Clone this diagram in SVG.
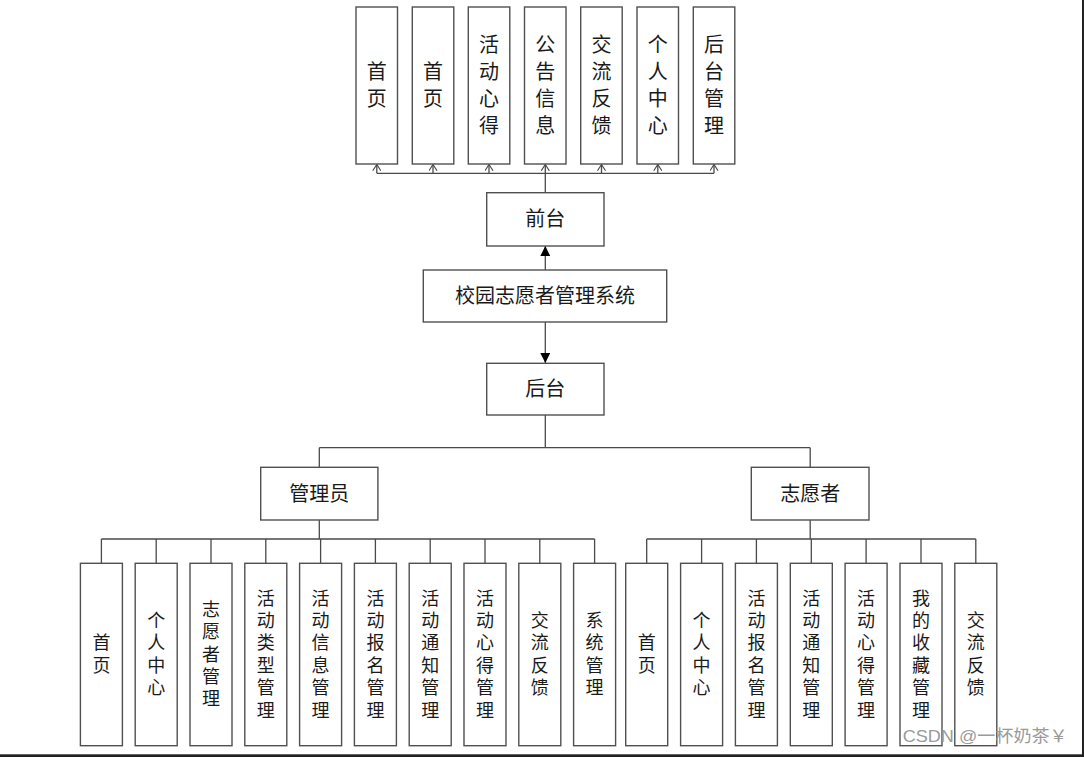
<svg xmlns="http://www.w3.org/2000/svg" width="1084" height="757" viewBox="0 0 1084 757">
<style>
.box{fill:#fff;stroke:#505050;stroke-width:1.4}
.ln{fill:none;stroke:#4a4a4a;stroke-width:1.3}
.t20{font-family:"Liberation Serif","Noto Sans CJK SC",serif;font-size:20px;fill:#1a1a1a;text-anchor:middle;dominant-baseline:central}
.t18{font-family:"Liberation Serif","Noto Sans CJK SC",serif;font-size:18px;fill:#1a1a1a;text-anchor:middle;dominant-baseline:central}
.wm{font-family:"Liberation Sans","Noto Sans CJK SC",sans-serif;font-size:17px;fill:#9a9a9a}
</style>
<defs>
<marker id="fill" viewBox="0 0 10 10" refX="10" refY="5" markerWidth="10" markerHeight="10" markerUnits="userSpaceOnUse" orient="auto">
<path d="M0,0 L10,5 L0,10 Z" fill="#000"/>
</marker>
<marker id="open" viewBox="0 0 10 10" refX="9" refY="5" markerWidth="9" markerHeight="9" markerUnits="userSpaceOnUse" orient="auto">
<path d="M2,0.5 L9,5 L2,9.5" fill="none" stroke="#4a4a4a" stroke-width="1.3"/>
</marker>
</defs>
<rect x="0" y="0" width="1084" height="757" fill="#fff"/>

<g id="connectors">
<path class="ln" d="M376.8,173.3 H714"/>
<path class="ln" d="M376.8,173.3 V164.5" marker-end="url(#open)"/>
<path class="ln" d="M433,173.3 V164.5" marker-end="url(#open)"/>
<path class="ln" d="M489,173.3 V164.5" marker-end="url(#open)"/>
<path class="ln" d="M545.3,192.7 V164.5" marker-end="url(#open)"/>
<path class="ln" d="M601.5,173.3 V164.5" marker-end="url(#open)"/>
<path class="ln" d="M657.8,173.3 V164.5" marker-end="url(#open)"/>
<path class="ln" d="M714,173.3 V164.5" marker-end="url(#open)"/>
<path class="ln" d="M545.3,270 V246" marker-end="url(#fill)"/>
<path class="ln" d="M545.3,322 V363" marker-end="url(#fill)"/>
<path class="ln" d="M545.3,415 V447.7 M319.3,447.7 H810.2 M319.3,447.7 V467.3 M810.2,447.7 V467.3"/>
<path class="ln" d="M319.3,520 V539 M101.4,539 H594.6"/>
<path class="ln" d="M101.4,539 V563.3 M156.2,539 V563.3 M211,539 V563.3 M265.8,539 V563.3 M320.6,539 V563.3 M375.4,539 V563.3 M430.2,539 V563.3 M485,539 V563.3 M539.8,539 V563.3 M594.6,539 V563.3"/>
<path class="ln" d="M810.2,520 V539 M646.7,539 H975.8"/>
<path class="ln" d="M646.7,539 V563.3 M701.6,539 V563.3 M756.4,539 V563.3 M811.3,539 V563.3 M866.1,539 V563.3 M921,539 V563.3 M975.8,539 V563.3"/>
</g>

<g id="f1"><rect class="box" x="356" y="7" width="41.5" height="157"/><text class="t20"><tspan x="376.8" y="72">首</tspan><tspan x="376.8" y="99">页</tspan></text></g>
<g id="f2"><rect class="box" x="412.3" y="7" width="41.5" height="157"/><text class="t20"><tspan x="433" y="72">首</tspan><tspan x="433" y="99">页</tspan></text></g>
<g id="f3"><rect class="box" x="468.3" y="7" width="41.5" height="157"/><text class="t20"><tspan x="489" y="45">活</tspan><tspan x="489" y="72">动</tspan><tspan x="489" y="99">心</tspan><tspan x="489" y="126">得</tspan></text></g>
<g id="f4"><rect class="box" x="524.5" y="7" width="41.5" height="157"/><text class="t20"><tspan x="545.3" y="45">公</tspan><tspan x="545.3" y="72">告</tspan><tspan x="545.3" y="99">信</tspan><tspan x="545.3" y="126">息</tspan></text></g>
<g id="f5"><rect class="box" x="580.7" y="7" width="41.5" height="157"/><text class="t20"><tspan x="601.5" y="45">交</tspan><tspan x="601.5" y="72">流</tspan><tspan x="601.5" y="99">反</tspan><tspan x="601.5" y="126">馈</tspan></text></g>
<g id="f6"><rect class="box" x="637" y="7" width="41.5" height="157"/><text class="t20"><tspan x="657.8" y="45">个</tspan><tspan x="657.8" y="72">人</tspan><tspan x="657.8" y="99">中</tspan><tspan x="657.8" y="126">心</tspan></text></g>
<g id="f7"><rect class="box" x="693.3" y="7" width="41.5" height="157"/><text class="t20"><tspan x="714" y="45">后</tspan><tspan x="714" y="72">台</tspan><tspan x="714" y="99">管</tspan><tspan x="714" y="126">理</tspan></text></g>

<g id="frontend"><rect class="box" x="486.7" y="192.7" width="117.3" height="53.3"/><text class="t20" x="545.3" y="219.3">前台</text></g>
<g id="system"><rect class="box" x="423.3" y="270" width="243.4" height="52"/><text class="t20" x="545" y="296">校园志愿者管理系统</text></g>
<g id="backend"><rect class="box" x="486.7" y="363.3" width="117.3" height="51.7"/><text class="t20" x="545.3" y="389">后台</text></g>
<g id="admin"><rect class="box" x="260.7" y="467.3" width="117.2" height="52.7"/><text class="t20" x="319.3" y="493.6">管理员</text></g>
<g id="volunteer"><rect class="box" x="751.3" y="467.3" width="117.7" height="52.7"/><text class="t20" x="810.2" y="493.6">志愿者</text></g>

<g id="a1"><rect class="box" x="80.4" y="563.3" width="42" height="182.4"/><text class="t18"><tspan x="101.4" y="643.3">首</tspan><tspan x="101.4" y="665.7">页</tspan></text></g>
<g id="a2"><rect class="box" x="135.2" y="563.3" width="42" height="182.4"/><text class="t18"><tspan x="156.2" y="620.9">个</tspan><tspan x="156.2" y="643.3">人</tspan><tspan x="156.2" y="665.7">中</tspan><tspan x="156.2" y="688.1">心</tspan></text></g>
<g id="a3"><rect class="box" x="190" y="563.3" width="42" height="182.4"/><text class="t18"><tspan x="211" y="609.7">志</tspan><tspan x="211" y="632.1">愿</tspan><tspan x="211" y="654.5">者</tspan><tspan x="211" y="676.9">管</tspan><tspan x="211" y="699.3">理</tspan></text></g>
<g id="a4"><rect class="box" x="244.8" y="563.3" width="42" height="182.4"/><text class="t18"><tspan x="265.8" y="598.5">活</tspan><tspan x="265.8" y="620.9">动</tspan><tspan x="265.8" y="643.3">类</tspan><tspan x="265.8" y="665.7">型</tspan><tspan x="265.8" y="688.1">管</tspan><tspan x="265.8" y="710.5">理</tspan></text></g>
<g id="a5"><rect class="box" x="299.6" y="563.3" width="42" height="182.4"/><text class="t18"><tspan x="320.6" y="598.5">活</tspan><tspan x="320.6" y="620.9">动</tspan><tspan x="320.6" y="643.3">信</tspan><tspan x="320.6" y="665.7">息</tspan><tspan x="320.6" y="688.1">管</tspan><tspan x="320.6" y="710.5">理</tspan></text></g>
<g id="a6"><rect class="box" x="354.4" y="563.3" width="42" height="182.4"/><text class="t18"><tspan x="375.4" y="598.5">活</tspan><tspan x="375.4" y="620.9">动</tspan><tspan x="375.4" y="643.3">报</tspan><tspan x="375.4" y="665.7">名</tspan><tspan x="375.4" y="688.1">管</tspan><tspan x="375.4" y="710.5">理</tspan></text></g>
<g id="a7"><rect class="box" x="409.2" y="563.3" width="42" height="182.4"/><text class="t18"><tspan x="430.2" y="598.5">活</tspan><tspan x="430.2" y="620.9">动</tspan><tspan x="430.2" y="643.3">通</tspan><tspan x="430.2" y="665.7">知</tspan><tspan x="430.2" y="688.1">管</tspan><tspan x="430.2" y="710.5">理</tspan></text></g>
<g id="a8"><rect class="box" x="464" y="563.3" width="42" height="182.4"/><text class="t18"><tspan x="485" y="598.5">活</tspan><tspan x="485" y="620.9">动</tspan><tspan x="485" y="643.3">心</tspan><tspan x="485" y="665.7">得</tspan><tspan x="485" y="688.1">管</tspan><tspan x="485" y="710.5">理</tspan></text></g>
<g id="a9"><rect class="box" x="518.8" y="563.3" width="42" height="182.4"/><text class="t18"><tspan x="539.8" y="620.9">交</tspan><tspan x="539.8" y="643.3">流</tspan><tspan x="539.8" y="665.7">反</tspan><tspan x="539.8" y="688.1">馈</tspan></text></g>
<g id="a10"><rect class="box" x="573.6" y="563.3" width="42" height="182.4"/><text class="t18"><tspan x="594.6" y="620.9">系</tspan><tspan x="594.6" y="643.3">统</tspan><tspan x="594.6" y="665.7">管</tspan><tspan x="594.6" y="688.1">理</tspan></text></g>

<g id="v1"><rect class="box" x="625.7" y="563.3" width="42" height="182.4"/><text class="t18"><tspan x="646.7" y="643.3">首</tspan><tspan x="646.7" y="665.7">页</tspan></text></g>
<g id="v2"><rect class="box" x="680.6" y="563.3" width="42" height="182.4"/><text class="t18"><tspan x="701.6" y="620.9">个</tspan><tspan x="701.6" y="643.3">人</tspan><tspan x="701.6" y="665.7">中</tspan><tspan x="701.6" y="688.1">心</tspan></text></g>
<g id="v3"><rect class="box" x="735.4" y="563.3" width="42" height="182.4"/><text class="t18"><tspan x="756.4" y="598.5">活</tspan><tspan x="756.4" y="620.9">动</tspan><tspan x="756.4" y="643.3">报</tspan><tspan x="756.4" y="665.7">名</tspan><tspan x="756.4" y="688.1">管</tspan><tspan x="756.4" y="710.5">理</tspan></text></g>
<g id="v4"><rect class="box" x="790.3" y="563.3" width="42" height="182.4"/><text class="t18"><tspan x="811.3" y="598.5">活</tspan><tspan x="811.3" y="620.9">动</tspan><tspan x="811.3" y="643.3">通</tspan><tspan x="811.3" y="665.7">知</tspan><tspan x="811.3" y="688.1">管</tspan><tspan x="811.3" y="710.5">理</tspan></text></g>
<g id="v5"><rect class="box" x="845.1" y="563.3" width="42" height="182.4"/><text class="t18"><tspan x="866.1" y="598.5">活</tspan><tspan x="866.1" y="620.9">动</tspan><tspan x="866.1" y="643.3">心</tspan><tspan x="866.1" y="665.7">得</tspan><tspan x="866.1" y="688.1">管</tspan><tspan x="866.1" y="710.5">理</tspan></text></g>
<g id="v6"><rect class="box" x="900" y="563.3" width="42" height="182.4"/><text class="t18"><tspan x="921" y="598.5">我</tspan><tspan x="921" y="620.9">的</tspan><tspan x="921" y="643.3">收</tspan><tspan x="921" y="665.7">藏</tspan><tspan x="921" y="688.1">管</tspan><tspan x="921" y="710.5">理</tspan></text></g>
<g id="v7"><rect class="box" x="954.8" y="563.3" width="42" height="182.4"/><text class="t18"><tspan x="975.8" y="620.9">交</tspan><tspan x="975.8" y="643.3">流</tspan><tspan x="975.8" y="665.7">反</tspan><tspan x="975.8" y="688.1">馈</tspan></text></g>

<text class="wm" x="902.7" y="741.5" textLength="165" lengthAdjust="spacingAndGlyphs">CSDN @一杯奶茶￥</text>

<rect x="0" y="754.3" width="1084" height="2.7" fill="#222"/>
<rect x="1082" y="0" width="2" height="757" fill="#222"/>
</svg>
